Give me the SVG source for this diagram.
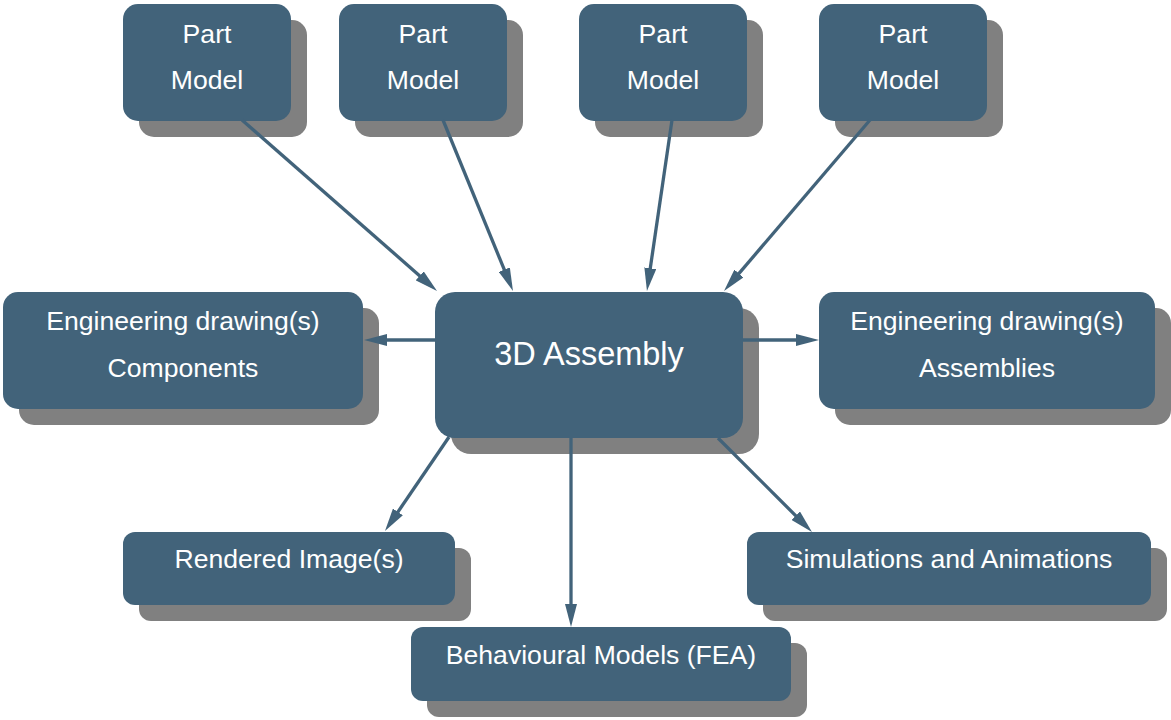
<svg xmlns="http://www.w3.org/2000/svg" width="1171" height="720" viewBox="0 0 1171 720">
  <style>
    .box { fill: #42637a; }
    .shadow { fill: #808080; }
    .label { fill: #ffffff; font-family: "Liberation Sans", Arial, sans-serif; font-size: 26.6px; text-anchor: middle; }
    .big { font-size: 32.5px; }
    .edge { stroke: #42637a; stroke-width: 3.3; fill: none; marker-end: url(#head); }
  </style>
  <defs>
    <marker id="head" markerUnits="userSpaceOnUse" viewBox="0 0 23 12" refX="13" refY="6" markerWidth="23" markerHeight="12" orient="auto">
      <path d="M0,0 L23,6 L0,12 Z" fill="#42637a"/>
    </marker>
  </defs>
  <rect width="1171" height="720" fill="#ffffff"/>

  <!-- Part models -->
  <g id="part1">
    <rect class="shadow" x="139" y="20" width="168" height="117" rx="15"/>
    <rect class="box" x="123" y="4" width="168" height="117" rx="15"/>
    <text class="label" x="207" y="43">Part</text>
    <text class="label" x="207" y="89">Model</text>
  </g>
  <g id="part2">
    <rect class="shadow" x="355" y="20" width="168" height="117" rx="15"/>
    <rect class="box" x="339" y="4" width="168" height="117" rx="15"/>
    <text class="label" x="423" y="43">Part</text>
    <text class="label" x="423" y="89">Model</text>
  </g>
  <g id="part3">
    <rect class="shadow" x="595" y="20" width="168" height="117" rx="15"/>
    <rect class="box" x="579" y="4" width="168" height="117" rx="15"/>
    <text class="label" x="663" y="43">Part</text>
    <text class="label" x="663" y="89">Model</text>
  </g>
  <g id="part4">
    <rect class="shadow" x="835" y="20" width="168" height="117" rx="15"/>
    <rect class="box" x="819" y="4" width="168" height="117" rx="15"/>
    <text class="label" x="903" y="43">Part</text>
    <text class="label" x="903" y="89">Model</text>
  </g>

  <!-- Central assembly -->
  <g id="assembly">
    <rect class="shadow" x="451" y="308" width="308" height="146" rx="20"/>
    <rect class="box" x="435" y="292" width="308" height="146" rx="20"/>
    <text class="label big" x="589" y="365">3D Assembly</text>
  </g>

  <!-- Drawings -->
  <g id="drawings-components">
    <rect class="shadow" x="19" y="308" width="360" height="117" rx="15"/>
    <rect class="box" x="3" y="292" width="360" height="117" rx="15"/>
    <text class="label" x="183" y="330">Engineering drawing(s)</text>
    <text class="label" x="183" y="377">Components</text>
  </g>
  <g id="drawings-assemblies">
    <rect class="shadow" x="835" y="308" width="336" height="117" rx="15"/>
    <rect class="box" x="819" y="292" width="336" height="117" rx="15"/>
    <text class="label" x="987" y="330">Engineering drawing(s)</text>
    <text class="label" x="987" y="377">Assemblies</text>
  </g>

  <!-- Outputs -->
  <g id="rendered">
    <rect class="shadow" x="139" y="548" width="332" height="73" rx="12"/>
    <rect class="box" x="123" y="532" width="332" height="73" rx="12"/>
    <text class="label" x="289" y="568">Rendered Image(s)</text>
  </g>
  <g id="simulations">
    <rect class="shadow" x="763" y="548" width="404" height="73" rx="12"/>
    <rect class="box" x="747" y="532" width="404" height="73" rx="12"/>
    <text class="label" x="949" y="568">Simulations and Animations</text>
  </g>
  <g id="behavioural">
    <rect class="shadow" x="427" y="643" width="380" height="74" rx="12"/>
    <rect class="box" x="411" y="627" width="380" height="74" rx="12"/>
    <text class="label" x="601" y="664">Behavioural Models (FEA)</text>
  </g>

  <!-- Connectors -->
  <g id="connectors">
    <line class="edge" x1="242" y1="120" x2="429.5" y2="284.4"/>
    <line class="edge" x1="443" y1="120" x2="509.2" y2="281.7"/>
    <line class="edge" x1="672" y1="120" x2="648.4" y2="281.1"/>
    <line class="edge" x1="870" y1="120" x2="730.5" y2="283.4"/>
    <line class="edge" x1="435" y1="340" x2="374" y2="340"/>
    <line class="edge" x1="743" y1="340" x2="809" y2="340"/>
    <line class="edge" x1="449" y1="437" x2="390.6" y2="522.7"/>
    <line class="edge" x1="571" y1="438" x2="571" y2="617"/>
    <line class="edge" x1="718" y1="438" x2="804.9" y2="524.9"/>
  </g>
</svg>
